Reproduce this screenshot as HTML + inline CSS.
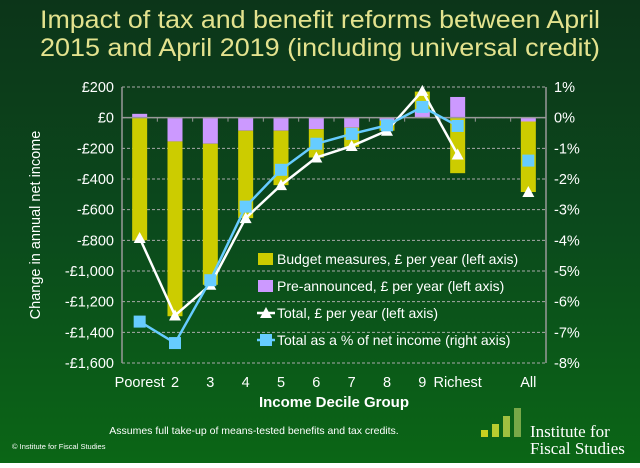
<!DOCTYPE html>
<html><head><meta charset="utf-8"><style>
body{margin:0;width:640px;height:463px;overflow:hidden;font-family:"Liberation Sans",sans-serif}
</style></head><body>
<svg id="chart" width="640" height="463" viewBox="0 0 640 463">
<defs><linearGradient id="bg" x1="0" y1="0" x2="0" y2="1"><stop offset="0" stop-color="#0c3519"/><stop offset="0.5" stop-color="#0b4a1c"/><stop offset="1" stop-color="#0b6616"/></linearGradient></defs>
<rect width="640" height="463" fill="url(#bg)"/>
<text x="320" y="28" text-anchor="middle" fill="#e3e28e" font-size="25" textLength="560" lengthAdjust="spacingAndGlyphs">Impact of tax and benefit reforms between April</text>
<text x="320" y="56" text-anchor="middle" fill="#e3e28e" font-size="25" textLength="560" lengthAdjust="spacingAndGlyphs">2015 and April 2019 (including universal credit)</text>
<g id="grid"></g><g id="bars"></g><g id="axes"></g><g id="lines"></g>
<text transform="translate(40,225) rotate(-90)" text-anchor="middle" fill="#fff" font-size="14.5">Change in annual net income</text>
<text x="334" y="407" text-anchor="middle" fill="#fff" font-size="15" font-weight="bold">Income Decile Group</text>
<text x="254" y="434" text-anchor="middle" fill="#fff" font-size="10.5">Assumes full take-up of means-tested benefits and tax credits.</text>
<text x="12" y="449" fill="#fff" font-size="7.5">© Institute for Fiscal Studies</text>
<g>
<rect x="481" y="430" width="7" height="7" fill="#c8d020"/><rect x="492" y="424" width="7" height="13" fill="#b8cc30"/><rect x="503" y="416" width="7" height="21" fill="#a0c040"/><rect x="514" y="408" width="7" height="29" fill="#78a848"/>
<text x="530" y="437" fill="#fff" font-family="Liberation Serif,serif" font-size="17">Institute for</text>
<text x="530" y="454" fill="#fff" font-family="Liberation Serif,serif" font-size="17">Fiscal Studies</text>
</g>
<g id="legend"></g>
</svg>
<script>
const categories=["Poorest","2","3","4","5","6","7","8","9","Richest","All"];
const budget=[-800,-1140,-920,-570,-355,-185,-125,-65,130,-362,-460];
const preAnnounced=[25,-155,-170,-85,-85,-75,-65,-20,40,135,-25];
const totalGBP=[-785,-1290,-1090,-655,-440,-260,-185,-85,175,-240,-485];
const totalPct=[-6.65,-7.35,-5.3,-2.9,-1.7,-0.85,-0.53,-0.25,0.35,-0.27,-1.4];
const leftTicks=[200,0,-200,-400,-600,-800,-1000,-1200,-1400,-1600];
const rightTicks=[1,0,-1,-2,-3,-4,-5,-6,-7,-8];
const X0=122,X1=546,Y0=87,Y1=363;
const slots=12;
const yL=v=>Y0+(200-v)*(Y1-Y0)/1800;
const yR=v=>Y0+(1-v)*(Y1-Y0)/9;
const bw=(X1-X0)/slots;
const slotOf=i=>i===categories.length-1?slots-1:i;
const xC=i=>X0+bw*(slotOf(i)+0.5);
const NS="http://www.w3.org/2000/svg";
function mk(p,t,a){const e=document.createElementNS(NS,t);for(const k in a)e.setAttribute(k,a[k]);document.getElementById(p).appendChild(e);return e;}
const fmt=v=>v===0?"£0":(v<0?"-":"")+"£"+Math.abs(v).toLocaleString("en-GB");
leftTicks.forEach(v=>{
 const g=mk("grid","line",{x1:X0,x2:X1,y1:yL(v),y2:yL(v),stroke:"#aaa","stroke-dasharray":"3,2","stroke-width":1});
 
 
 const t=mk("axes","text",{x:X0-8,y:yL(v)+5,"text-anchor":"end",fill:"#fff","font-size":14.5});
 t.textContent=fmt(v);
 
 
});
rightTicks.forEach(v=>{
 const t=mk("axes","text",{x:X1+8,y:yR(v)+5,fill:"#fff","font-size":14.5});
 t.textContent=(v<0?"-":"")+Math.abs(v)+"%";
 
 
});
[[X0,"left-axis"],[X1,"right-axis"]].forEach(([x,n])=>{
 const l=mk("axes","line",{x1:x,x2:x,y1:Y0,y2:Y1,stroke:"#999","stroke-width":1.5});
 
 
});
const za=mk("axes","line",{x1:X0,x2:X1,y1:yL(0),y2:yL(0),stroke:"#999","stroke-width":1.5});


for(let s=1;s<slots;s++){
 const tk=mk("axes","line",{x1:X0+bw*s,x2:X0+bw*s,y1:yL(0),y2:yL(0)+4,stroke:"#999"});
 
 
}
categories.forEach((c,i)=>{
 const t=mk("axes","text",{x:xC(i),y:387,"text-anchor":"middle",fill:"#fff","font-size":14.5});
 t.textContent=c;
 
 
 let pos=0,neg=0;
 const seg=(v,color,name)=>{
  let a,b;
  if(v>=0){a=pos;b=pos+v;pos=b;}else{a=neg;b=neg+v;neg=b;}
  const r=mk("bars","rect",{x:xC(i)-7.5,width:15,y:Math.min(yL(a),yL(b)),height:Math.abs(yL(a)-yL(b)),fill:color});
  
  
 };
 seg(preAnnounced[i],"#cc99ff","bar-pre-announced");
 seg(budget[i],"#cccc00","bar-budget");
});
function series(vals,yf,color,marker,name){
 const pts=vals.slice(0,10).map((v,i)=>xC(i)+","+yf(v)).join(" ");
 const pl=mk("lines","polyline",{points:pts,fill:"none",stroke:color,"stroke-width":2.5});
 
 
 vals.forEach((v,i)=>{
  const x=xC(i),y=yf(v);let m;
  if(marker==="tri")m=mk("lines","polygon",{points:`${x},${y-6} ${x-6},${y+5} ${x+6},${y+5}`,fill:color});
  else m=mk("lines","rect",{x:x-6,y:y-6,width:12,height:12,fill:color});
  
  
 });
}
series(totalGBP,yL,"#ffffff","tri","total-gbp");
series(totalPct,yR,"#66ccff","sq","total-pct");
const leg=[["#cccc00","rect","Budget measures, £ per year (left axis)"],["#cc99ff","rect","Pre-announced, £ per year (left axis)"],["#ffffff","tri","Total, £ per year (left axis)"],["#66ccff","sq","Total as a % of net income (right axis)"]];
leg.forEach((l,k)=>{
 const y=259+k*27;
 if(l[1]==="rect"){mk("legend","rect",{x:258,y:y-6,width:15,height:12,fill:l[0]});}
 else{
  mk("legend","line",{x1:257,x2:275,y1:y,y2:y,stroke:l[0],"stroke-width":2.5});
  if(l[1]==="tri")mk("legend","polygon",{points:`266,${y-6} 260,${y+5} 272,${y+5}`,fill:l[0]});
  else mk("legend","rect",{x:260,y:y-6,width:12,height:12,fill:l[0]});
 }
 const t=mk("legend","text",{x:277,y:y+5,fill:"#fff","font-size":14});
 t.textContent=l[2];
 
 
});
</script>
</body></html>
